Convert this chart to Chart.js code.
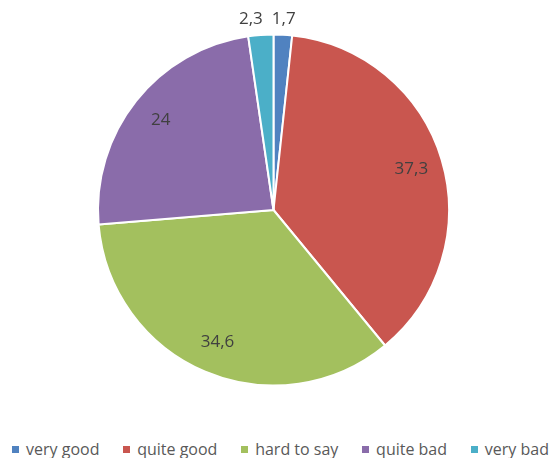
<!DOCTYPE html>
<html>
<head>
<meta charset="utf-8">
<script src="https://cdn.jsdelivr.net/npm/chart.js@4.4.1/dist/chart.umd.min.js"></script>
<style>
  html, body { margin: 0; padding: 0; background: #fff; }
  #wrap { position: relative; width: 553px; height: 458px; }
  #plot { position: absolute; left: 0; top: 0; width: 553px; height: 420px; }
  #legend {
    position: absolute; left: 12px; right: 4px; top: 439px; height: 20px;
    display: flex; justify-content: space-between; align-items: center;
    font: 16px 'Open Sans', sans-serif; color: #595959; white-space: nowrap;
  }
  #legend .item { display: flex; align-items: center; }
  #legend .box { width: 7px; height: 7px; margin-right: 7px; }
</style>
</head>
<body>
<div id="wrap">
  <div id="plot"><canvas id="pieChart"></canvas></div>
  <div id="legend"></div>
</div>
<script>
const categories = ["very good", "quite good", "hard to say", "quite bad", "very bad"];
const values = [1.7, 37.3, 34.6, 24, 2.3];
const sliceColors = ["#5082C0", "#C9564F", "#A3C05E", "#8A6CAA", "#4BAFC8"];

// numbers on the slices use a decimal comma
function formatValue(v) {
    return String(v).replace(".", ",");
}

const sliceLabels = {
    id: "sliceLabels",
    afterDatasetsDraw(chart) {
        const ctx = chart.ctx;
        const meta = chart.getDatasetMeta(0);
        const total = values.reduce((a, b) => a + b, 0);
        ctx.save();
        ctx.font = "17px 'Open Sans'";
        ctx.fillStyle = "#404040";
        ctx.textAlign = "center";
        ctx.textBaseline = "middle";
        const spots = meta.data.map(function (arc, i) {
            const p = arc.getProps(["x", "y", "startAngle", "endAngle", "outerRadius"], true);
            const mid = (p.startAngle + p.endAngle) / 2;
            const outside = values[i] / total < 0.05;
            // small slices get their label outside the pie
            const dist = outside ? p.outerRadius + 16 : p.outerRadius * 0.82;
            const text = formatValue(values[i]);
            return {
                text: text, outside: outside,
                x: p.x + Math.cos(mid) * dist, y: p.y + Math.sin(mid) * dist,
                w: ctx.measureText(text).width
            };
        });
        // push overlapping outside labels apart
        const outer = spots.filter(s => s.outside).sort((a, b) => b.x - a.x);
        for (let k = 1; k < outer.length; k++) {
            const right = outer[k - 1], left = outer[k];
            const gap = (right.x - right.w / 2) - (left.x + left.w / 2);
            if (Math.abs(right.y - left.y) < 16 && gap < 9) left.x -= 9 - gap;
        }
        spots.forEach(s => ctx.fillText(s.text, s.x, s.y));
        ctx.restore();
    }
};

const htmlLegend = {
    id: "htmlLegend",
    afterUpdate(chart) {
        const box = document.getElementById("legend");
        box.innerHTML = "";
        const items = chart.options.plugins.legend.labels.generateLabels(chart);
        items.forEach(function (item) {
            const el = document.createElement("span");
            el.className = "item";
            const sw = document.createElement("span");
            sw.className = "box";
            sw.style.background = item.fillStyle;
            el.appendChild(sw);
            el.appendChild(document.createTextNode(item.text));
            box.appendChild(el);
        });
    }
};

const ctx = document.getElementById("pieChart").getContext("2d");

new Chart(ctx, {
    type: "pie",
    data: {
        labels: categories,
        datasets: [{
            data: values,
            backgroundColor: sliceColors,
            borderColor: "#ffffff",
            borderWidth: 2
        }]
    },
    options: {
        responsive: true,
        maintainAspectRatio: false,
        animation: false,
        radius: 175.5,
        layout: {
            padding: { top: 0, bottom: 0, left: 0, right: 6 }
        },
        plugins: {
            legend: { display: false },
            tooltip: { enabled: false }
        }
    },
    plugins: [sliceLabels, htmlLegend]
});
</script>
</body>
</html>
